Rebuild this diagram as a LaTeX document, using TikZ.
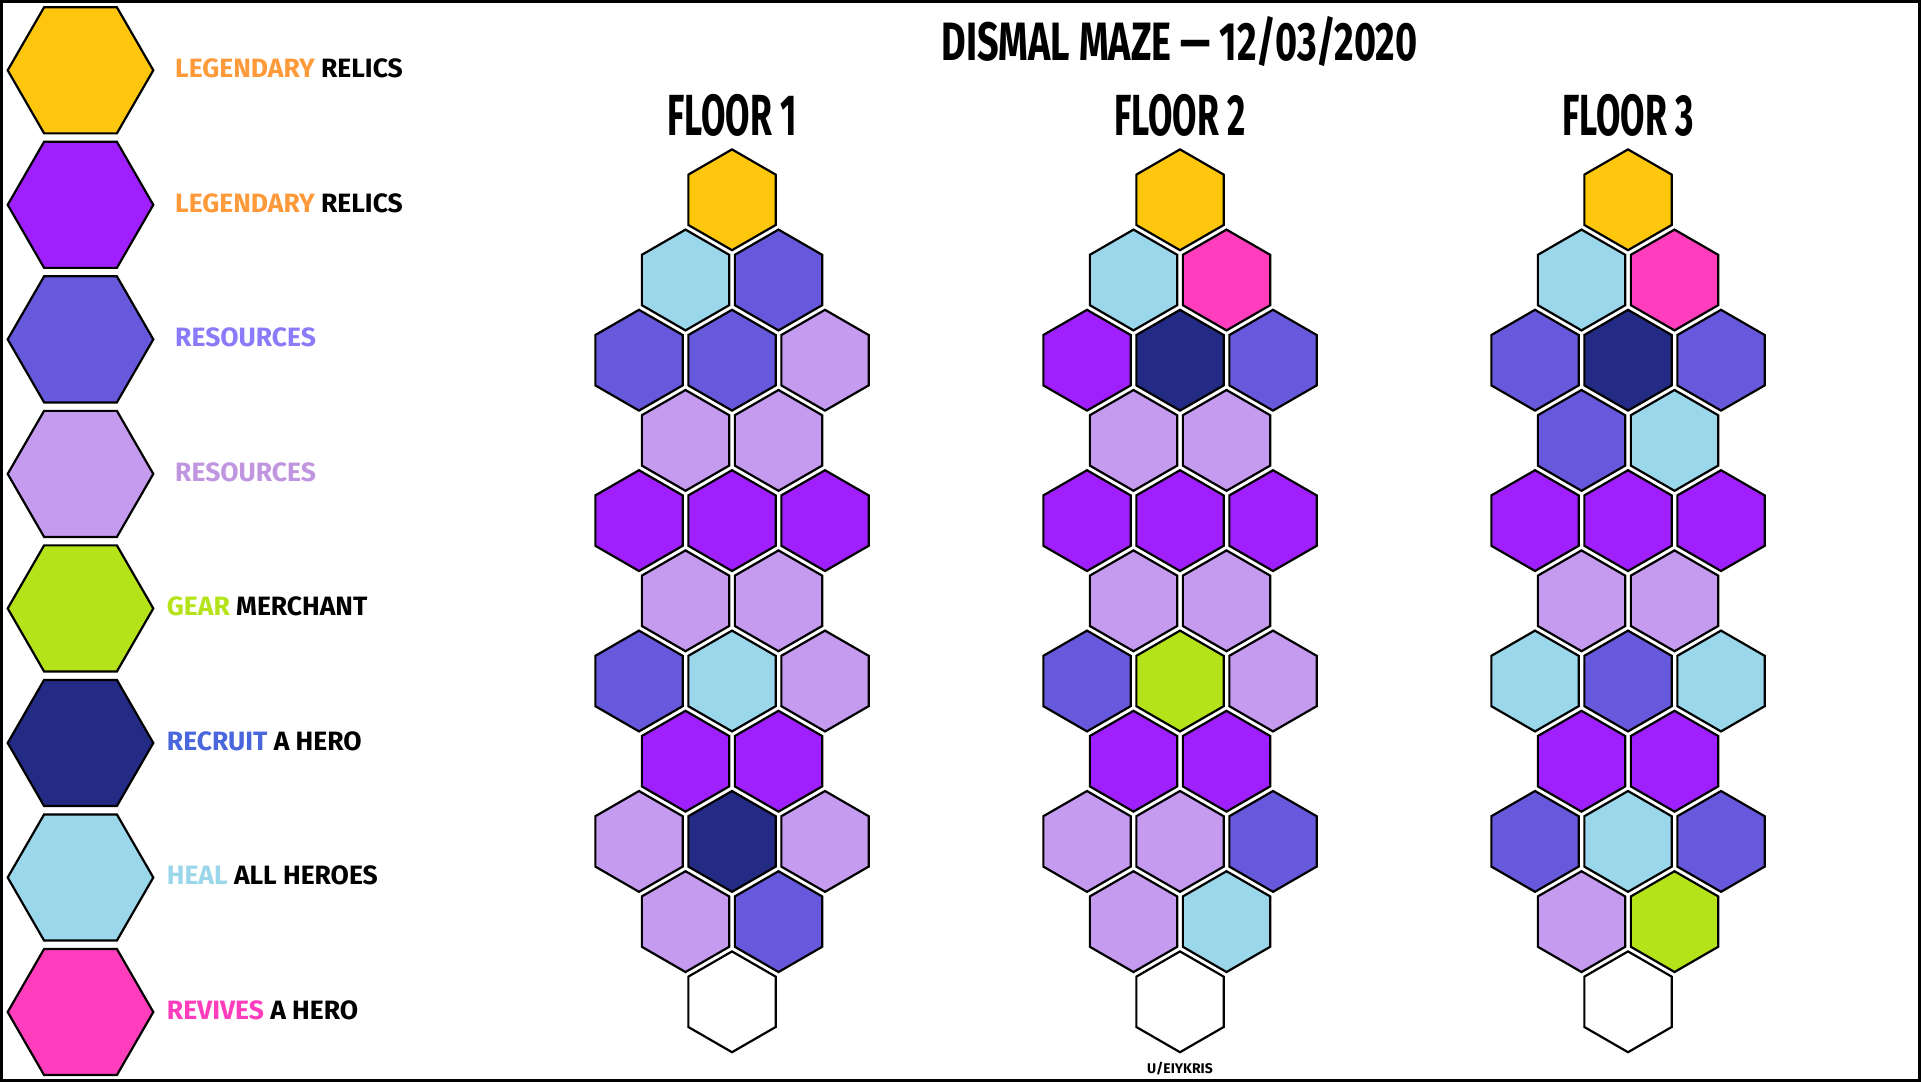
\documentclass[tikz,border=0pt]{standalone}
\usepackage{fontspec}
\usetikzlibrary{shapes.geometric}
\setmainfont{Fira Sans}
\newfontfamily\titlefont[FakeStretch=0.70]{Fira Sans}
\newfontfamily\floorfont[FakeStretch=0.61]{Fira Sans}
\definecolor{cyel}{HTML}{FEC70E}
\definecolor{cpur}{HTML}{A020FD}
\definecolor{cres}{HTML}{6659DB}
\definecolor{clav}{HTML}{C59BF0}
\definecolor{cgrn}{HTML}{B5E31A}
\definecolor{cnav}{HTML}{232B84}
\definecolor{ccyn}{HTML}{9BD7EA}
\definecolor{cpnk}{HTML}{FF3DBD}
\definecolor{cwht}{HTML}{FFFFFF}
\definecolor{torg}{HTML}{FF9A3B}
\definecolor{tres}{HTML}{8B7BFA}
\definecolor{tlav}{HTML}{C096E0}
\definecolor{trec}{HTML}{4A66DD}
\tikzset{
  bhex/.style={regular polygon, regular polygon sides=6, shape border rotate=30,
    minimum size=100.8pt, inner sep=0pt, draw=black, line width=2.2pt},
  lhex/.style={regular polygon, regular polygon sides=6,
    minimum size=145.6pt, inner sep=0pt, draw=black, line width=2.2pt},
  leglabel/.style={anchor=base west, inner sep=0pt, font=\fontsize{26.5}{30}\selectfont\bfseries},
  floortitle/.style={anchor=base, inner sep=0pt, font=\floorfont\fontsize{58}{60}\selectfont\bfseries},
}
\newcommand\hexrow[4]{%
  \foreach \cc [count=\ii] in {#4} {
    \node[bhex, fill=\cc] (h-#1-#2-\ii) at ({732+(#1-1)*448+(\ii-(#3+1)/2)*93}, {199.8+#2*80.2}) {};
  }}
\begin{document}
\begin{tikzpicture}[x=1pt,y=-1pt]
\useasboundingbox (0,0) rectangle (1921,1082);
\fill[white] (0,0) rectangle (1921,1082);
\draw[line width=2.6pt] (1.3,1.3) rectangle (1919.7,1080.7);

% legend
\foreach \col/\k in {cyel/0,cpur/1,cres/2,clav/3,cgrn/4,cnav/5,ccyn/6,cpnk/7}
  \node[lhex, fill=\col] (leg\k) at (80.5, {70.3+\k*134.53}) {};
\node[leglabel] (lt0) at (175, 77.5) {\textcolor{torg}{LEGENDARY} RELICS};
\node[leglabel] (lt1) at (175, 212.0) {\textcolor{torg}{LEGENDARY} RELICS};
\node[leglabel] (lt2) at (175, 346.6) {\textcolor{tres}{RESOURCES}};
\node[leglabel] (lt3) at (175, 481.1) {\textcolor{tlav}{RESOURCES}};
\node[leglabel] (lt4) at (166.7, 615.7) {\textcolor{cgrn}{GEAR} MERCHANT};
\node[leglabel] (lt5) at (166.7, 750.2) {\textcolor{trec}{RECRUIT} A HERO};
\node[leglabel] (lt6) at (166.7, 884.7) {\textcolor{ccyn}{HEAL} ALL HEROES};
\node[leglabel] (lt7) at (166.7, 1019.3) {\textcolor{cpnk}{REVIVES} A HERO};

% titles
\node[anchor=base, inner sep=0pt, font=\titlefont\fontsize{54}{56}\selectfont\bfseries] (title) at (1179.7, 60) {DISMAL MAZE — 12/03/2020};
\node[floortitle] (ft1) at (732, 135) {FLOOR 1};
\node[floortitle] (ft2) at (1180, 135) {FLOOR 2};
\node[floortitle] (ft3) at (1628, 135) {FLOOR 3};
\node[anchor=base, inner sep=0pt, font=\fontsize{14}{15}\selectfont\bfseries] (credit) at (1180, 1073.3) {U/EIYKRIS};

% floor 1
\hexrow{1}{0}{1}{cyel}
\hexrow{1}{1}{2}{ccyn,cres}
\hexrow{1}{2}{3}{cres,cres,clav}
\hexrow{1}{3}{2}{clav,clav}
\hexrow{1}{4}{3}{cpur,cpur,cpur}
\hexrow{1}{5}{2}{clav,clav}
\hexrow{1}{6}{3}{cres,ccyn,clav}
\hexrow{1}{7}{2}{cpur,cpur}
\hexrow{1}{8}{3}{clav,cnav,clav}
\hexrow{1}{9}{2}{clav,cres}
\hexrow{1}{10}{1}{cwht}
% floor 2
\hexrow{2}{0}{1}{cyel}
\hexrow{2}{1}{2}{ccyn,cpnk}
\hexrow{2}{2}{3}{cpur,cnav,cres}
\hexrow{2}{3}{2}{clav,clav}
\hexrow{2}{4}{3}{cpur,cpur,cpur}
\hexrow{2}{5}{2}{clav,clav}
\hexrow{2}{6}{3}{cres,cgrn,clav}
\hexrow{2}{7}{2}{cpur,cpur}
\hexrow{2}{8}{3}{clav,clav,cres}
\hexrow{2}{9}{2}{clav,ccyn}
\hexrow{2}{10}{1}{cwht}
% floor 3
\hexrow{3}{0}{1}{cyel}
\hexrow{3}{1}{2}{ccyn,cpnk}
\hexrow{3}{2}{3}{cres,cnav,cres}
\hexrow{3}{3}{2}{cres,ccyn}
\hexrow{3}{4}{3}{cpur,cpur,cpur}
\hexrow{3}{5}{2}{clav,clav}
\hexrow{3}{6}{3}{ccyn,cres,ccyn}
\hexrow{3}{7}{2}{cpur,cpur}
\hexrow{3}{8}{3}{cres,ccyn,cres}
\hexrow{3}{9}{2}{clav,cgrn}
\hexrow{3}{10}{1}{cwht}
\end{tikzpicture}
\end{document}
